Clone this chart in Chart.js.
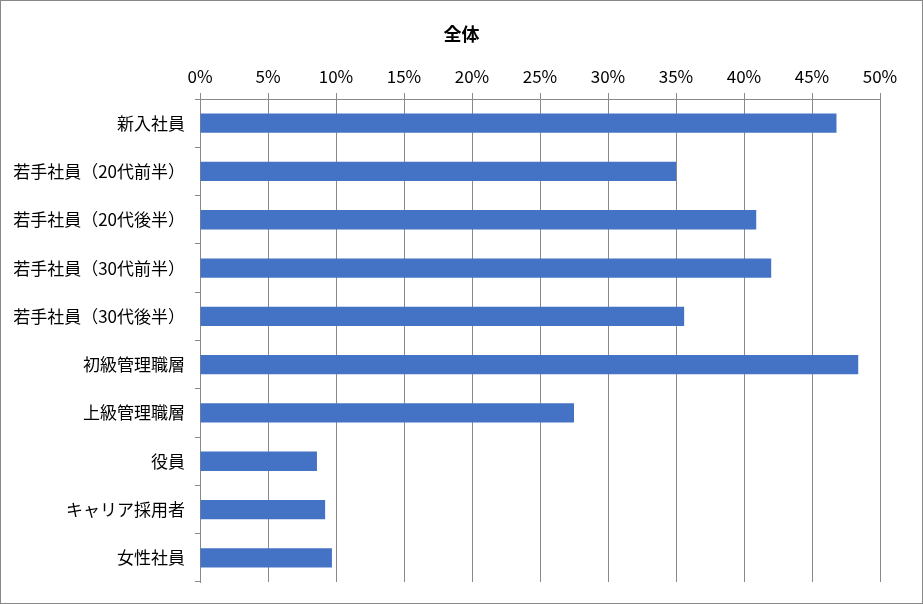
<!DOCTYPE html>
<html>
<head>
<meta charset="utf-8">
<script src="https://cdn.jsdelivr.net/npm/chart.js@4"></script>
<style>
  html, body { margin: 0; padding: 0; background: #fff; }
  #wrap { width: 923px; height: 604px; box-sizing: border-box; border: 1px solid #888; }
  #chart { display: block; }
</style>
</head>
<body>
<div id="wrap"><canvas id="chart" width="921" height="602"></canvas></div>
<script>
const categorias = [
    "新入社員",
    "若手社員（20代前半）",
    "若手社員（20代後半）",
    "若手社員（30代前半）",
    "若手社員（30代後半）",
    "初級管理職層",
    "上級管理職層",
    "役員",
    "キャリア採用者",
    "女性社員"
];
const valores = [46.8, 35.0, 40.9, 42.0, 35.6, 48.4, 27.5, 8.6, 9.2, 9.7];
const titulo = "全体";

const fuente = "'Noto Sans CJK JP', 'Noto Sans', sans-serif";
const gris = "#898989";

// titulo centrado sobre todo el canvas (no solo el area del grafico)
const tituloPlugin = {
    id: "tituloCentrado",
    afterDraw(chart) {
        const ctx = chart.ctx;
        ctx.save();
        ctx.font = "bold 18px " + fuente;
        ctx.fillStyle = "#000";
        ctx.textAlign = "center";
        ctx.textBaseline = "middle";
        ctx.fillText(titulo, chart.width / 2, 33);
        ctx.restore();
    }
};

const config = {
    type: "bar",
    data: {
        labels: categorias,
        datasets: [
            {
                data: valores,
                backgroundColor: "#4472C4",
                borderWidth: 0,
                barPercentage: 0.4,
                categoryPercentage: 1
            }
        ]
    },
    options: {
        indexAxis: "y",
        responsive: false,
        animation: false,
        layout: { padding: { left: 0, right: 42, top: 54, bottom: 21 } },
        plugins: {
            legend: { display: false },
            tooltip: { enabled: false },
            title: { display: false }
        },
        scales: {
            x: {
                position: "top",
                min: 0,
                max: 50,
                ticks: {
                    stepSize: 5,
                    color: "#000",
                    padding: 6,
                    font: { family: fuente, size: 17 },
                    callback: (v) => v + "%"
                },
                grid: { color: gris, lineWidth: 1, tickLength: 6 },
                border: { display: true, color: gris },
                afterFit: (scale) => { scale.height = 44; }
            },
            y: {
                ticks: {
                    color: "#000",
                    padding: 10,
                    font: { family: fuente, size: 17 }
                },
                grid: { drawOnChartArea: false, color: gris, tickLength: 5, offset: true },
                border: { display: true, color: gris },
                afterFit: (scale) => { scale.width = 199; }
            }
        }
    },
    plugins: [tituloPlugin]
};

new Chart(document.getElementById("chart"), config);
</script>
</body>
</html>
